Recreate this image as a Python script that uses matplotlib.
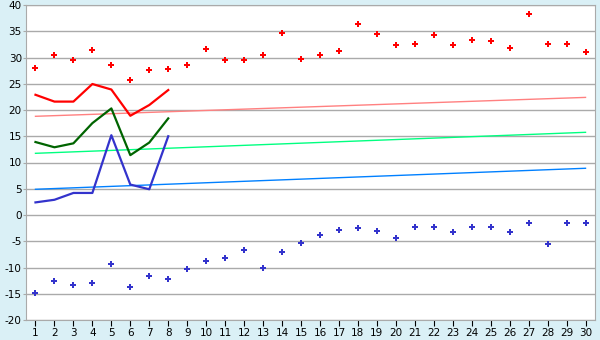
import matplotlib.pyplot as plt

plt.rcParams['axes.unicode_minus'] = False

days = list(range(1, 31))

# daily max / min points
max_pts = [28.0, 30.4, 29.5, 31.4, 28.5, 25.8, 27.7, 27.9, 28.5, 31.7,
           29.5, 29.6, 30.4, 34.6, 29.8, 30.4, 31.2, 36.3, 34.4, 32.3,
           32.5, 34.2, 32.3, 33.4, 33.1, 31.9, 38.2, 32.5, 32.5, 31.0]
min_pts = [-14.9, -12.6, -13.4, -13.0, -9.4, -13.8, -11.7, -12.1, -10.2, -8.8,
           -8.25, -6.7, -10.0, -7.1, -5.4, -3.9, -2.9, -2.5, -3.1, -4.4,
           -2.2, -2.2, -3.3, -2.2, -2.2, -3.3, -1.6, -5.6, -1.6, -1.6]

# measured lines, first 8 days
line_days = [1, 2, 3, 4, 5, 6, 7, 8]
red_line = [22.9, 21.6, 21.6, 24.95, 23.9, 18.9, 20.95, 23.8]
green_line = [13.9, 12.9, 13.65, 17.5, 20.3, 11.4, 13.8, 18.4]
blue_line = [2.4, 2.9, 4.2, 4.2, 15.2, 5.8, 4.9, 15.0]

# trend lines (start/end)
trend_days = [1, 30]
red_trend = [18.8, 22.4]
green_trend = [11.75, 15.75]
blue_trend = [4.9, 8.9]

yticks = list(range(-20, 45, 5))

fig = plt.figure(figsize=(6, 3.4), dpi=100, facecolor='#daf0f6')
ax = fig.add_axes([26/600, 20/340, 569/600, 315/340])
ax.set_facecolor('white')

ax.plot(trend_days, red_trend, color='#ff8080', lw=1)
ax.plot(trend_days, green_trend, color='#00ff80', lw=1)
ax.plot(trend_days, blue_trend, color='#0080ff', lw=1)

ax.plot(line_days, red_line, color='#ff0000', lw=1.6)
ax.plot(line_days, green_line, color='#006400', lw=1.6)
ax.plot(line_days, blue_line, color='#3333cc', lw=1.6)

ax.plot(days, max_pts, ls='none', marker='P', ms=5, color='#ff0000', mew=0)
ax.plot(days, min_pts, ls='none', marker='P', ms=5, color='#3333cc', mew=0)

ax.set_xlim(0.5, 30.5)
ax.set_ylim(-20, 40)
ax.set_xticks(days)
ax.set_yticks(yticks)
ax.yaxis.grid(True, color='#aaaaaa', lw=1)
ax.set_axisbelow(True)
for s in ax.spines.values():
    s.set_color('#aaaaaa')
ax.tick_params(axis='both', labelsize=7.5, length=4, color='black', pad=1.5)
ax.tick_params(axis='y', color='#aaaaaa', length=2, pad=1)

fig.savefig('out.png', dpi=100, facecolor=fig.get_facecolor())
